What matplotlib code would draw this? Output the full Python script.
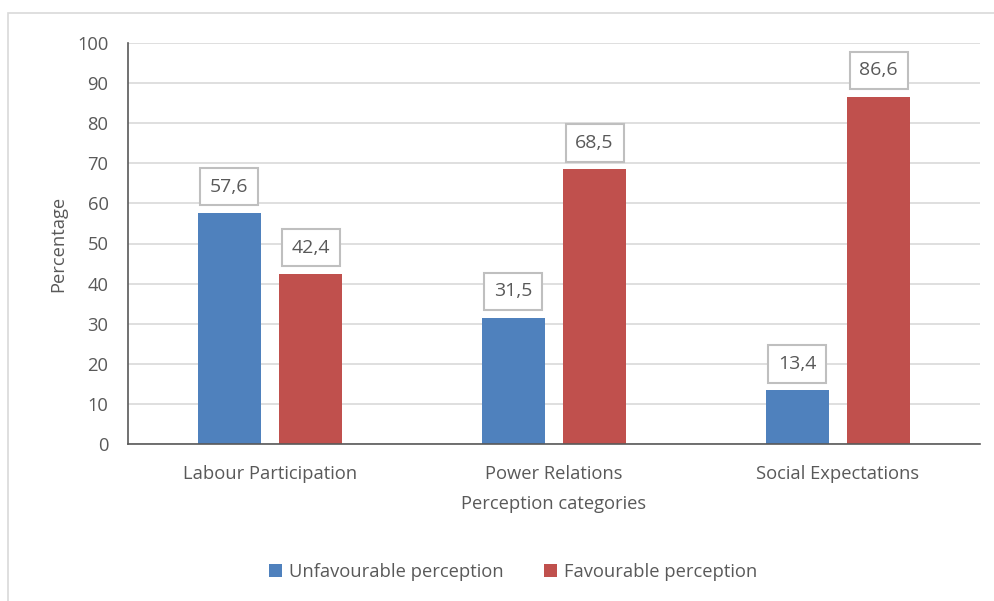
import numpy as np
import matplotlib.pyplot as plt
from matplotlib.patches import Rectangle

categories = ['Labour Participation', 'Power Relations', 'Social Expectations']
unfavourable = [57.6, 31.5, 13.4]
favourable = [42.4, 68.5, 86.6]
series_names = ['Unfavourable perception', 'Favourable perception']
colors = ['#4F81BD', '#C0504D']

plt.rcParams['font.family'] = ['Open Sans', 'DejaVu Sans']
txt = '#595959'
fs = 13.2

fig = plt.figure(figsize=(9.94, 6.01), dpi=100)
# light chart border like the office chart frame
fig.patches.append(Rectangle((8 / 994, -0.01), 1.1, 1 - 13 / 601 + 0.01, transform=fig.transFigure,
                             fill=False, edgecolor='#D9D9D9', linewidth=1.2))
ax = fig.add_axes([128 / 994, 1 - 444 / 601, 852 / 994, 401 / 601])

x = np.arange(len(categories))
w = 0.222
off = 0.143
b1 = ax.bar(x - off, unfavourable, w, color=colors[0], label=series_names[0], zorder=3)
b2 = ax.bar(x + off, favourable, w, color=colors[1], label=series_names[1], zorder=3)

for bars, vals in [(b1, unfavourable), (b2, favourable)]:
    for bar, v in zip(bars, vals):
        ax.annotate(f'{v:.1f}'.replace('.', ','), (bar.get_x() + bar.get_width() / 2, v),
                    xytext=(0, 19), textcoords='offset points', ha='center', va='center',
                    fontsize=14, color=txt,
                    bbox=dict(boxstyle='square,pad=0.5', fc='white', ec='#BFBFBF', lw=1.5))

ax.set_xlim(-0.5, 2.5)
ax.set_ylim(0, 100)
ax.set_yticks(range(0, 101, 10))
ax.set_xticks(x)
ax.set_xticklabels(categories)
ax.tick_params(axis='both', length=0, colors=txt, labelsize=fs)
ax.tick_params(axis='x', pad=15)
ax.tick_params(axis='y', pad=14)
ax.grid(axis='y', color='#D9D9D9', linewidth=1.2, zorder=0)
for s in ['top', 'right']:
    ax.spines[s].set_visible(False)
for s in ['left', 'bottom']:
    ax.spines[s].set_color('#595959')
    ax.spines[s].set_linewidth(1.2)
    ax.spines[s].set_zorder(4)

ax.set_ylabel('Percentage', color=txt, fontsize=fs, labelpad=7)
ax.set_xlabel('Perception categories', color=txt, fontsize=fs, labelpad=9)

fig.legend(handles=[b1, b2], loc='center', bbox_to_anchor=(513 / 994, 1 - 572 / 601), ncol=2,
           frameon=False, fontsize=fs, labelcolor=txt, handlelength=0.7, handleheight=0.7,
           handletextpad=0.4, columnspacing=2.2)

fig.savefig('out.png', dpi=100)
